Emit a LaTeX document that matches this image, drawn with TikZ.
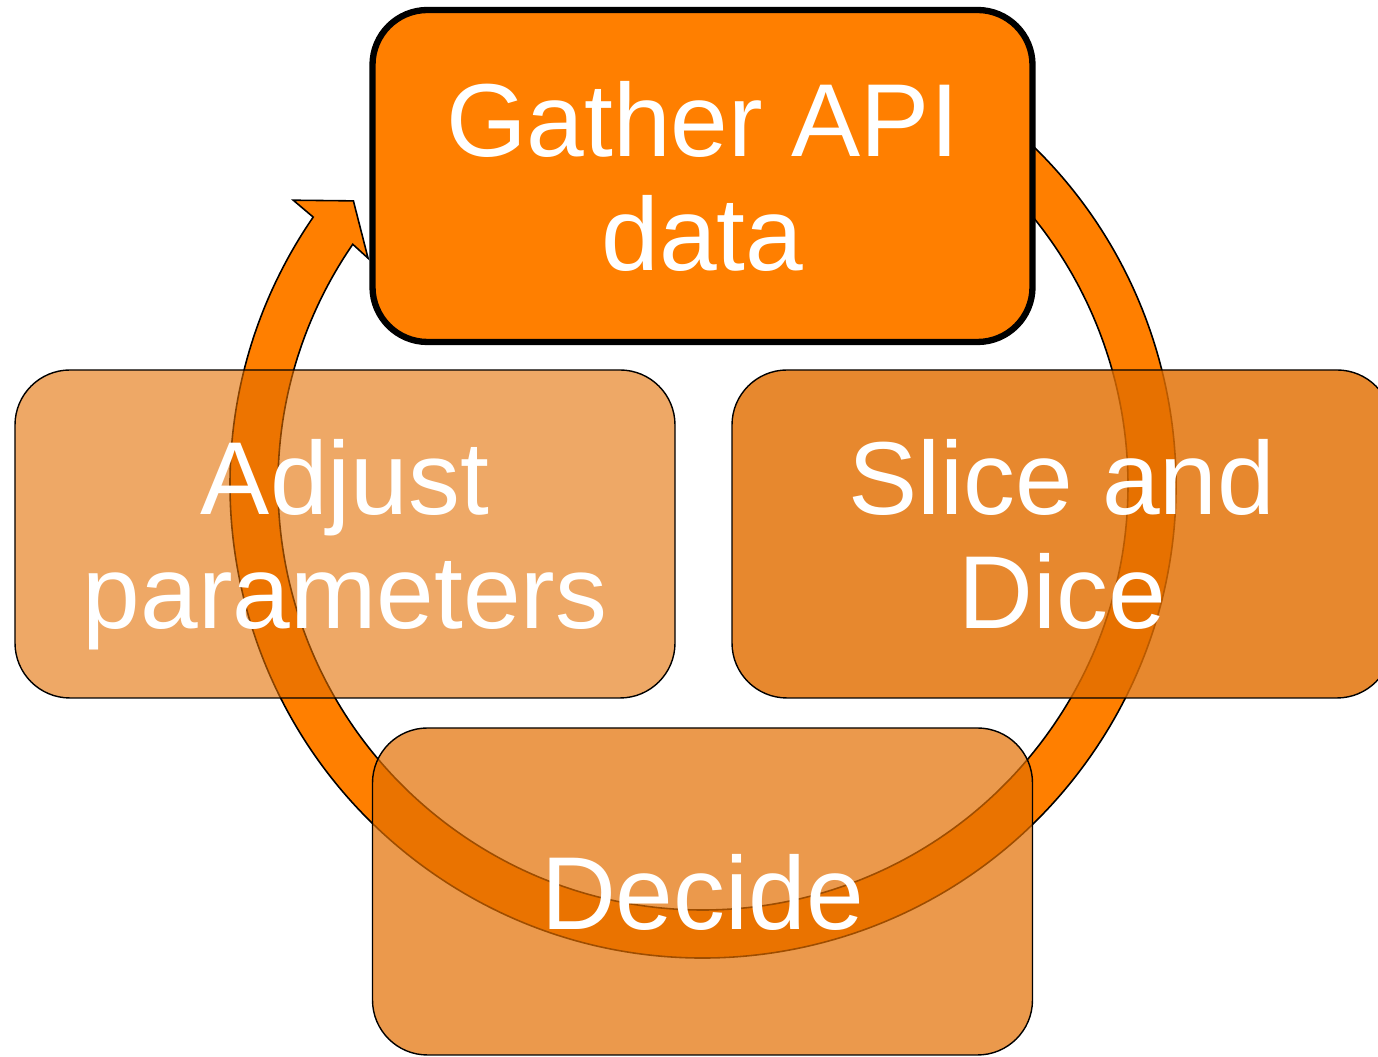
\documentclass[tikz,border=0pt]{standalone}
\usepackage{fontspec}
\setmainfont{Liberation Sans}
\definecolor{ringorange}{RGB}{255,127,0}
\definecolor{boxorange}{RGB}{226,110,0}
\tikzset{
    stage/.style={draw=black, line width=0.8pt, rounded corners=1.1cm, fill=boxorange,
        minimum width=13.2cm, minimum height=6.56cm, text=white, text opacity=1,
        align=center, text depth=0pt, font=\fontsize{59}{65}\selectfont},
    ring/.style={draw=black, line width=0.9pt, fill=ringorange}
}
\begin{document}
\begin{tikzpicture}
                \def\rout{9.46} \def\rin{8.5} \def\aend{-214.5}
                \useasboundingbox (0,0) rectangle (27.56,21.14);
                \clip (0,0) rectangle (27.56,21.14);
                % circular arrow behind the boxes
                \begin{scope}[shift={(14.06,11.44)}]
                \draw [ring](55:\rout) arc [start angle=55, end angle=\aend, radius=\rout]
                    --(-214.8:9.98)--(-219.1:9.01)--(-214.1:8.09)--(\aend:\rin)
                    arc [start angle=\aend, end angle=55, radius=\rin]--cycle;
                \end{scope}
                \node [stage, fill opacity=0.6] (adjust) at (6.9,10.46) {Adjust\\parameters};
                \node [stage, fill opacity=0.82] (slice) at (21.24,10.46) {Slice and\\Dice};
                \node [stage, fill opacity=0.7, minimum height=6.54cm] (decide) at (14.05,3.31) {Decide};
                \node [stage, fill=ringorange, line width=3.6pt, minimum height=6.64cm] (gather) at (14.05,17.62) {Gather API\\data};
            \end{tikzpicture}
\end{document}
